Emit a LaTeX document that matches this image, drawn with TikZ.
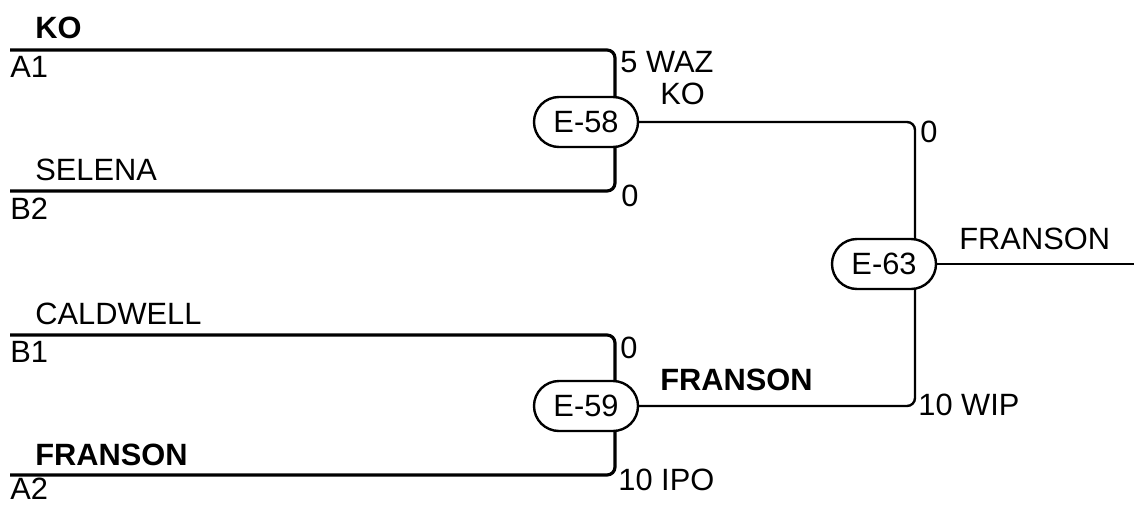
\documentclass[tikz,border=0pt]{standalone}
\usepackage{fontspec}
\setmainfont{Liberation Sans}
\usetikzlibrary{backgrounds,calc}
\tikzset{
  match/.style={draw,line width=1.2pt,fill=white,rounded corners=12.5pt,minimum width=52pt,minimum height=25pt,inner sep=0pt},
  entry/.style={line width=1.6pt,rounded corners=4pt},
  link/.style={line width=1.2pt,rounded corners=4pt},
  txt/.style={anchor=base west,inner sep=0pt},
  win/.style={txt,font=\bfseries\fontsize{15.4}{18}\selectfont},
}
\begin{document}
\begin{tikzpicture}[x=0.5pt,y=-0.5pt,font=\fontsize{15.4}{18}\selectfont]
\useasboundingbox (0,0) rectangle (1134,504);
% matches
\node[match] (m58) at (586,122) {E-58};
\node[match] (m59) at (586,406) {E-59};
\node[match] (m63) at (884,264) {E-63};
% line starts
\coordinate (a1) at (10,50);
\coordinate (b2) at (10,191);
\coordinate (b1) at (10,335);
\coordinate (a2) at (10,475);
\coordinate (out) at (1134,264);
\begin{pgfonlayer}{background}
\draw[entry] (a1) -| ($(m58.center)+(29,0)$);
\draw[entry] (b2) -| ($(m58.center)+(29,0)$);
\draw[entry] (b1) -| ($(m59.center)+(29,0)$);
\draw[entry] (a2) -| ($(m59.center)+(29,0)$);
\draw[link] (m58.east) -| ($(m63.center)+(31,0)$);
\draw[link] (m59.east) -| ($(m63.center)+(31,0)$);
\draw[link] (m63.east) -- (out);
\end{pgfonlayer}
% names
\node[win] (n1) at (35,38) {KO};
\node[txt] (n2) at (35,180) {SELENA};
\node[txt] (n3) at (35,324) {CALDWELL};
\node[win] (n4) at (35,465) {FRANSON};
\node[txt] (p1) at (10,77) {A1};
\node[txt] (p2) at (10,219) {B2};
\node[txt] (p3) at (10,362) {B1};
\node[txt] (p4) at (10,499) {A2};
% scores
\node[txt] (s1) at (620,72) {5 WAZ};
\node[txt] (s2) at (621,206) {0};
\node[txt] (s3) at (620,358) {0};
\node[txt] (s4) at (618,490) {10 IPO};
\node[txt] (s5) at (920,142) {0};
\node[txt] (s6) at (918,415) {10 WIP};
% winners
\node[txt] (w1) at (660,104) {KO};
\node[win] (w2) at (660,390) {FRANSON};
\node[txt] (w3) at (959,249) {FRANSON};
\end{tikzpicture}
\end{document}
